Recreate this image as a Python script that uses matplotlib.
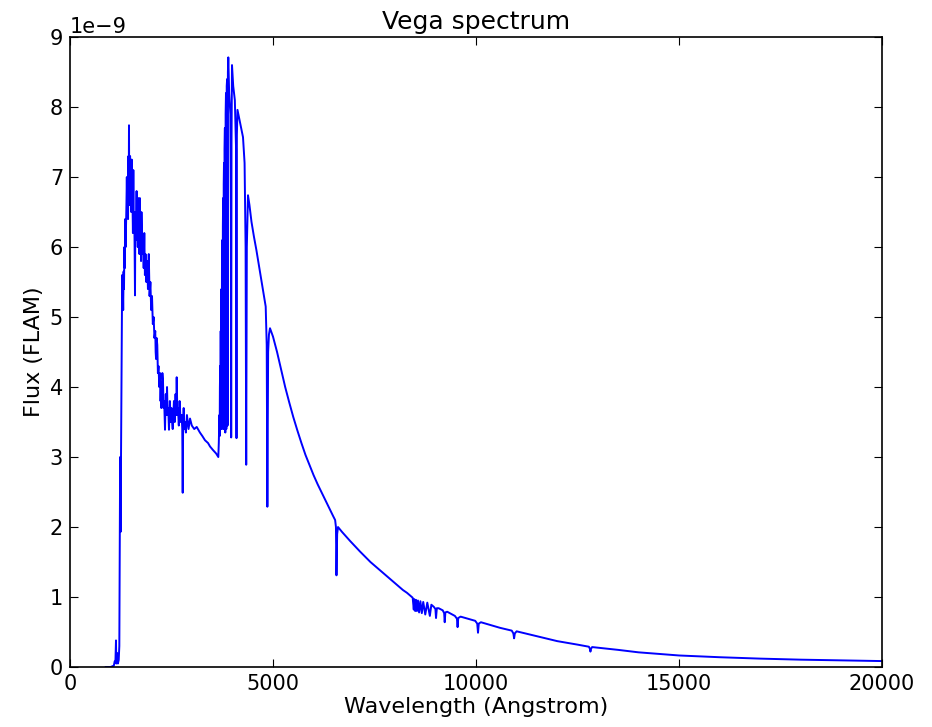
import numpy as np
import matplotlib
matplotlib.use('Agg')
import matplotlib.pyplot as plt

# wavelength (Angstrom) and flux (units of 1e-9 FLAM)
wave_uv = [880, 1000, 1080, 1100, 1120, 1133, 1140, 1160, 1180, 1200, 1215,
           1225, 1235, 1245, 1260, 1270, 1285, 1295, 1300, 1310, 1320, 1330,
           1340, 1350, 1360, 1370, 1380, 1390, 1400, 1410, 1420, 1430, 1440,
           1447, 1453, 1460, 1465, 1472, 1480, 1490, 1500, 1510, 1520, 1530,
           1540, 1550, 1560, 1570, 1580, 1590, 1601, 1608, 1615, 1625, 1640,
           1650, 1660, 1670, 1680, 1690, 1700, 1710, 1720, 1730, 1740, 1750,
           1760, 1780, 1800, 1815, 1830, 1845, 1860, 1880, 1900, 1920, 1940,
           1960, 1980, 2000, 2020, 2040, 2060, 2080, 2100, 2110, 2120, 2135,
           2150, 2165, 2180, 2200, 2217, 2230, 2240, 2250, 2260, 2275, 2290,
           2305, 2320, 2330, 2340, 2350, 2360, 2375, 2390, 2405, 2420, 2430,
           2438, 2448, 2460, 2480, 2500, 2515, 2530, 2545, 2560, 2580, 2600,
           2615, 2628, 2645, 2660, 2680, 2700, 2725, 2750, 2765, 2776, 2787,
           2800, 2815, 2830, 2855, 2880, 2920, 2956, 3000, 3060, 3121, 3200,
           3260, 3325, 3400, 3450, 3522, 3600, 3653]
flux_uv = [0.0, 0.0, 0.02, 0.08, 0.1, 0.38, 0.05, 0.2, 0.05, 0.1, 0.3,
           1.5, 3.0, 1.93, 3.4, 4.4, 5.6, 5.2, 5.5, 5.1, 5.65, 5.4,
           6.0, 5.7, 6.4, 6.0, 6.3, 6.6, 7.0, 6.5, 6.9, 6.4, 7.3,
           6.8, 7.74, 6.7, 7.0, 6.6, 7.3, 6.8, 6.9, 6.5, 7.25, 6.7,
           6.6, 6.2, 7.1, 6.3, 6.5, 6.1, 5.31, 6.2, 6.5, 6.1, 6.8,
           6.2, 6.4, 6.0, 6.7, 6.1, 6.3, 5.9, 6.7, 6.0, 6.2, 5.8,
           6.5, 5.9, 6.1, 5.7, 6.2, 5.6, 5.9, 5.5, 5.8, 5.4, 5.9,
           5.3, 5.5, 5.1, 5.3, 4.9, 5.0, 4.7, 4.8, 4.5, 4.4, 4.7,
           4.6, 4.2, 4.3, 4.0, 4.2, 3.8, 4.0, 3.7, 3.9, 4.2, 4.1,
           3.7, 3.8, 3.6, 3.39, 3.7, 3.9, 3.6, 4.0, 3.6, 3.7, 3.5,
           3.39, 3.6, 3.8, 3.5, 3.7, 3.5, 3.4, 3.6, 3.8, 3.5, 3.9,
           3.6, 4.14, 3.6, 3.7, 3.45, 3.8, 3.5, 3.6, 3.4, 2.49, 3.5,
           3.7, 3.4, 3.5, 3.35, 3.6, 3.4, 3.55, 3.45, 3.4, 3.43, 3.35,
           3.3, 3.24, 3.2, 3.15, 3.1, 3.05, 3.0]

wave_balmer = [3665, 3680, 3686, 3692, 3700, 3705, 3712, 3718, 3724, 3730,
               3736, 3743, 3751, 3758, 3765, 3772, 3779, 3786, 3793, 3800,
               3807, 3815, 3825, 3833, 3842, 3850, 3860, 3870, 3880, 3889,
               3899, 3920, 3950, 3962, 3970, 3978, 3990, 4020, 4060, 4090,
               4101, 4110, 4125, 4180, 4261, 4300, 4325, 4340, 4355, 4384,
               4420, 4470, 4530, 4590, 4650, 4720, 4780, 4820, 4845, 4861,
               4880, 4900, 4926, 5000, 5100, 5200, 5300, 5400, 5500, 5600,
               5700, 5800, 5911, 6000, 6100, 6200, 6300, 6400, 6478, 6530,
               6550, 6563, 6580, 6601, 6700, 6900, 7143, 7400, 7700, 7956,
               8200, 8300, 8400]
flux_balmer = [3.2, 3.6, 3.3, 4.0, 4.3, 3.4, 4.8, 3.5, 5.0, 5.4,
               3.4, 5.7, 6.1, 3.5, 6.3, 6.7, 3.4, 6.9, 7.2, 3.4,
               7.4, 7.7, 3.35, 7.9, 8.2, 3.4, 8.3, 8.4, 3.45, 8.5,
               8.71, 8.2, 7.9, 6.5, 3.28, 7.5, 8.6, 8.3, 8.1, 7.4,
               3.27, 7.6, 7.96, 7.8, 7.57, 7.2, 6.0, 2.89, 6.0, 6.74,
               6.6, 6.36, 6.15, 5.96, 5.75, 5.5, 5.3, 5.15, 4.6, 2.29,
               4.5, 4.75, 4.84, 4.72, 4.5, 4.25, 4.0, 3.78, 3.57, 3.38,
               3.2, 3.03, 2.87, 2.74, 2.61, 2.49, 2.37, 2.25, 2.16, 2.1,
               2.0, 1.31, 1.9, 2.0, 1.93, 1.8, 1.65, 1.5, 1.35, 1.22,
               1.1, 1.06, 1.01]

wave_ir = [8440, 8467, 8480, 8502, 8520, 8545, 8570, 8598, 8630, 8665,
           8700, 8750, 8800, 8863, 8900, 8960, 9000, 9015, 9035, 9080,
           9180, 9215, 9229, 9245, 9290, 9480, 9530, 9546, 9562, 9620,
           9980, 10030, 10049, 10068, 10120, 10591, 10880, 10920, 10938,
           10956, 11000, 11500, 12000, 12500, 12780, 12805, 12818, 12832,
           12860, 13500, 14000, 15000, 16000, 17000, 18000, 19000, 20000]
flux_ir = [0.99, 0.82, 0.97, 0.8, 0.96, 0.8, 0.95, 0.78, 0.94, 0.77,
           0.93, 0.75, 0.92, 0.73, 0.89, 0.86, 0.83, 0.7, 0.84, 0.84,
           0.81, 0.77, 0.64, 0.78, 0.79, 0.73, 0.69, 0.57, 0.7, 0.72,
           0.66, 0.62, 0.49, 0.62, 0.64, 0.56, 0.52, 0.48, 0.41,
           0.48, 0.51, 0.44, 0.37, 0.32, 0.29, 0.26, 0.22, 0.26,
           0.285, 0.245, 0.21, 0.165, 0.14, 0.12, 0.105, 0.095, 0.085]


def main():
    wave = np.array(wave_uv + wave_balmer + wave_ir)
    flux = np.array(flux_uv + flux_balmer + flux_ir) * 1e-9

    fig = plt.figure(figsize=(9.32, 7.27), dpi=100)
    ax = fig.add_axes([0.0751, 0.0825, 0.8713, 0.8665])
    ax.plot(wave, flux, color='b', lw=1.4)

    ax.set_xlim(0, 20000)
    ax.set_ylim(0, 9e-9)
    ax.set_xticks([0, 5000, 10000, 15000, 20000])
    ax.set_yticks(np.arange(0, 10) * 1e-9)
    ax.tick_params(direction='in', top=True, right=True, length=6,
                   labelsize=15, pad=5)
    ax.yaxis.get_offset_text().set_fontsize(15)
    for s in ax.spines.values():
        s.set_linewidth(1.2)

    ax.set_title('Vega spectrum', fontsize=18)
    ax.set_xlabel('Wavelength (Angstrom)', fontsize=16, labelpad=2)
    ax.set_ylabel('Flux (FLAM)', fontsize=16)

    fig.savefig('out.png', dpi=100)


if __name__ == '__main__':
    main()
